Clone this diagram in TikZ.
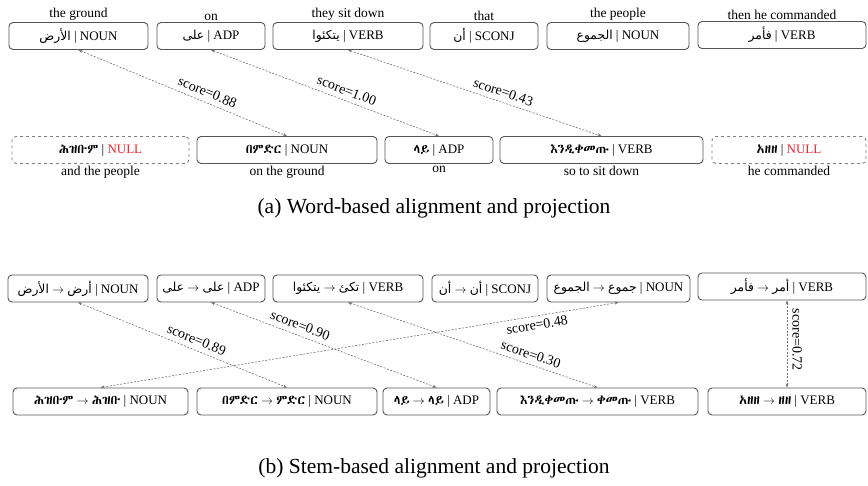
\documentclass[tikz,border=0pt]{standalone}
\usepackage{fontspec}
\usepackage{xcolor}
\usepackage{tikz}
\usetikzlibrary{arrows.meta,positioning}

\setmainfont{Liberation Serif}
\newfontfamily\arabicfont[Script=Arabic,Scale=0.95]{DejaVu Sans}
\IfFontExistsTF{Abyssinica SIL}{\newfontfamily\ethfont{Abyssinica SIL}}{%
  \IfFontExistsTF{Noto Sans Ethiopic}{\newfontfamily\ethfont{Noto Sans Ethiopic}}{%
    \IfFontExistsTF{FreeSerif}{\newfontfamily\ethfont{FreeSerif}}{%
      \newfontfamily\ethfont{DejaVu Sans}}}}
\TeXXeTstate=1

\definecolor{boxgray}{HTML}{555555}
\definecolor{linkgray}{HTML}{707070}
\definecolor{nullred}{HTML}{E8262B}

\newcommand{\arb}[1]{{\arabicfont\beginR #1\endR}}
\newcommand{\gz}[1]{{\ethfont #1}}
\newcommand{\nul}{\textcolor{nullred}{NULL}}
\newcommand{\too}{$\rightarrow$}

\begin{document}
\begin{tikzpicture}[x=1pt, y=-1pt, >={Stealth[length=4pt,width=3pt]},
  every node/.style={font=\fontsize{13}{15}\selectfont},
  tok/.style={draw=boxgray, line width=0.9pt, rounded corners=4pt, minimum height=27pt, inner sep=0pt},
  nulltok/.style={tok, draw=gray, dashed},
  gloss/.style={inner sep=1.5pt, font=\fontsize{13.5}{15}\selectfont},
  link/.style={<->, draw=linkgray, dash pattern=on 2pt off 1.5pt, line width=0.6pt},
  score/.style={sloped, inner sep=1pt, font=\fontsize{14}{16}\selectfont},
  captxt/.style={font=\fontsize{21.5}{24}\selectfont}]
  \useasboundingbox (0,0) rectangle (868,486);

  % (a) word-based
  \node[tok, minimum width=139pt] (t1) at (78.5,36) {\arb{الأرض} | NOUN};
  \node[tok, minimum width=108pt] (t2) at (211,36)  {\arb{على} | ADP};
  \node[tok, minimum width=150pt] (t3) at (348,36)  {\arb{يتكئوا} | VERB};
  \node[tok, minimum width=108pt] (t4) at (484,36)  {\arb{أن} | SCONJ};
  \node[tok, minimum width=142pt] (t5) at (618,36)  {\arb{الجموع} | NOUN};
  \node[tok, minimum width=168pt] (t6) at (782,35)  {\arb{فأمر} | VERB};
  \node[gloss, above=0pt of t1] (gt1) {the ground};
  \node[gloss, above=0pt of t2] (gt2) {on};
  \node[gloss, above=0pt of t3] (gt3) {they sit down};
  \node[gloss, above=0pt of t4] (gt4) {that};
  \node[gloss, above=0pt of t5] (gt5) {the people};
  \node[gloss, above=0pt of t6] (gt6) {then he commanded};

  \node[nulltok, minimum width=177pt] (b1) at (100.5,150) {\gz{ሕዝቡም} | \nul};
  \node[tok, minimum width=180pt]     (b2) at (287,150)   {\gz{በምድር} | NOUN};
  \node[tok, minimum width=108pt]     (b3) at (439,150)   {\gz{ላይ} | ADP};
  \node[tok, minimum width=203pt]     (b4) at (601.5,150) {\gz{እንዲቀመጡ} | VERB};
  \node[nulltok, minimum width=154pt] (b5) at (789,150)   {\gz{አዘዘ} | \nul};
  \node[gloss, below=0pt of b1] (gb1) {and the people};
  \node[gloss, below=0pt of b2] (gb2) {on the ground};
  \node[gloss, below=0pt of b3] (gb3) {on};
  \node[gloss, below=0pt of b4] (gb4) {so to sit down};
  \node[gloss, below=0pt of b5] (gb5) {he commanded};

  \draw[link] (t1.south) -- node[score, above=4pt, pos=0.6]  (sa1) {score=0.88} (b2.north);
  \draw[link] (t2.south) -- node[score, above=4pt, pos=0.58] (sa2) {score=1.00} (b3.north);
  \draw[link] (t3.south) -- node[score, above=4pt, pos=0.6]  (sa3) {score=0.43} (b4.north);

  \node[captxt] (capa) at (434,208) {(a) Word-based alignment and projection};

  % (b) stem-based
  \node[tok, minimum width=140pt] (u1) at (78,288.5)  {\arb{الأرض} \too{} \arb{أرض} | NOUN};
  \node[tok, minimum width=108pt] (u2) at (211,288.5) {\arb{على} \too{} \arb{على} | ADP};
  \node[tok, minimum width=150pt] (u3) at (348,288.5) {\arb{يتكئوا} \too{} \arb{تكئ} | VERB};
  \node[tok, minimum width=106pt] (u4) at (485,288.5) {\arb{أن} \too{} \arb{أن} | SCONJ};
  \node[tok, minimum width=143pt] (u5) at (618.5,288.5) {\arb{الجموع} \too{} \arb{جموع} | NOUN};
  \node[tok, minimum width=168pt] (u6) at (782,286.5) {\arb{فأمر} \too{} \arb{أمر} | VERB};

  \node[tok, minimum width=175pt] (v1) at (100.5,401.5) {\gz{ሕዝቡም} \too{} \gz{ሕዝቡ} | NOUN};
  \node[tok, minimum width=180pt] (v2) at (287,401.5)   {\gz{በምድር} \too{} \gz{ምድር} | NOUN};
  \node[tok, minimum width=107pt] (v3) at (436.5,401.5) {\gz{ላይ} \too{} \gz{ላይ} | ADP};
  \node[tok, minimum width=201pt] (v4) at (597.5,401.5) {\gz{እንዲቀመጡ} \too{} \gz{ቀመጡ} | VERB};
  \node[tok, minimum width=158pt] (v5) at (787,401.5)   {\gz{አዘዘ} \too{} \gz{ዘዘ} | VERB};

  \draw[link] (u1.south) -- node[score, above=4pt, pos=0.55] (sb1) {score=0.89} (v2.north);
  \draw[link] (u2.south) -- node[score, above=4pt, pos=0.38] (sb2) {score=0.90} (v3.north);
  \draw[link] (u3.south) -- node[score, above=4pt, pos=0.72] (sb3) {score=0.30} (v4.north);
  \draw[link] (v1.north) -- node[score, below=3pt, pos=0.84] (sb5) {score=0.48} (u5.south);
  \draw[link] (u6.south -| v5.north) -- node[score, above=4pt, pos=0.45] (sb6) {score=0.72} (v5.north);

  \node[captxt] (capb) at (434,468) {(b) Stem-based alignment and projection};
\end{tikzpicture}
\end{document}
